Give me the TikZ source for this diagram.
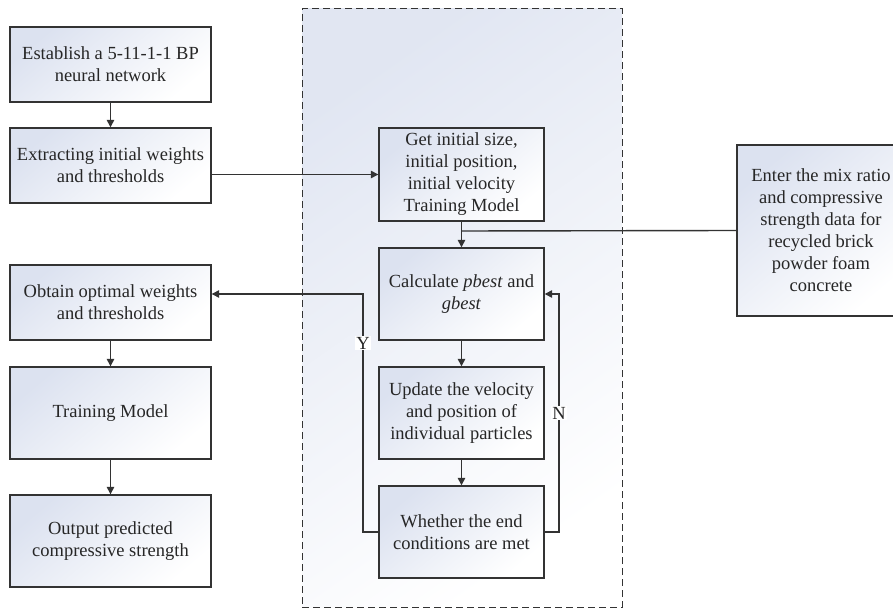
\documentclass[tikz,border=0pt]{standalone}
\usepackage{fontspec}
\setmainfont{Liberation Serif}
\usetikzlibrary{arrows.meta}
\definecolor{lineC}{HTML}{333333}
\definecolor{shadeC}{HTML}{DCE2F0}
\tikzset{
  box/.style={draw=lineC, line width=1.4pt, rectangle, align=center, inner sep=2pt,
    top color=shadeC, bottom color=white, shading angle=40,
    font=\fontsize{18.5}{22}\selectfont, text=black!85},
  conn/.style={draw=lineC, line width=1.4pt},
  arr/.style={conn, -{Triangle[width=7.5pt,length=7.5pt]}},
  lab/.style={fill=white, inner sep=1pt, font=\fontsize{18.5}{20}\selectfont, text=black!85}
}
\begin{document}
\begin{tikzpicture}[x=1pt,y=-1pt]
\useasboundingbox (0,0) rectangle (893,609);
% dashed region
\node[draw=lineC, dash pattern=on 7pt off 4pt, line width=1pt, top color=shadeC!85, bottom color=white, shading angle=35,
  minimum width=320pt, minimum height=598pt, inner sep=0pt] (region) at (462,308) {};
% left column
\node[box, minimum width=201pt, minimum height=75pt] (b1) at (110.5,64.5) {Establish a 5-11-1-1 BP\\neural network};
\node[box, minimum width=201pt, minimum height=75pt] (b2) at (110.5,165.5) {Extracting initial weights\\and thresholds};
\node[box, minimum width=201pt, minimum height=75pt] (b3) at (110.5,302.5) {Obtain optimal weights\\and thresholds};
\node[box, minimum width=201pt, minimum height=92pt] (b4) at (110.5,413) {Training Model};
\node[box, minimum width=201pt, minimum height=92pt] (b5) at (110.5,541) {Output predicted\\compressive strength};
% center column
\node[box, minimum width=165pt, minimum height=93pt] (c1) at (461.5,174.5) {Get initial size,\\initial position,\\initial velocity\\Training Model};
\node[box, minimum width=165pt, minimum height=92pt] (c2) at (461.5,294) {Calculate \textit{pbest} and\\\textit{gbest}};
\node[box, minimum width=165pt, minimum height=92pt] (c3) at (461.5,413) {Update the velocity\\and position of\\individual particles};
\node[box, minimum width=165pt, minimum height=92pt] (c4) at (461.5,532) {Whether the end\\conditions are met};
% right box
\node[box, minimum width=168pt, minimum height=171pt] (r1) at (821,230.5) {Enter the mix ratio\\and compressive\\strength data for\\recycled brick\\powder foam\\concrete};
% connectors
\draw[arr] (b1.south) -- (b2.north);
\draw[arr] (b3.south) -- (b4.north);
\draw[arr] (b4.south) -- (b5.north);
\draw[arr] (b2.east |- c1.west) -- (c1.west);
\draw[arr] (c1.south) -- (c2.north);
\draw[arr] (c2.south) -- (c3.north);
\draw[arr] (c3.south) -- (c4.north);
\coordinate (j) at (461.5,231);
\draw[conn] (r1.west) -- (j);
\coordinate (yl) at (363,532);
\coordinate (yt) at (363,294);
\draw[arr] (c4.west) -- (yl) -- (yt) -- (b3.east |- yt);
\coordinate (nl) at (559,532);
\coordinate (nt) at (559,294);
\draw[arr] (c4.east) -- (nl) -- (nt) -- (c2.east);
\node[lab] (ylab) at (363,343) {Y};
\node[lab] (nlab) at (559,413) {N};
\end{tikzpicture}
\end{document}
